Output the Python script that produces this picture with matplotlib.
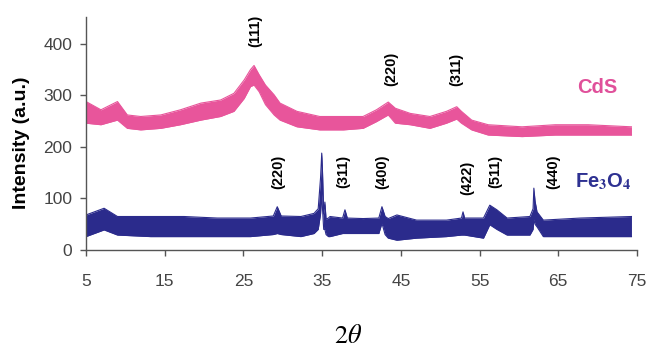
import matplotlib
matplotlib.use("Agg")
import matplotlib.pyplot as plt
import numpy as np

plt.rcParams['font.family'] = ['Liberation Sans', 'DejaVu Sans']
plt.rcParams['mathtext.fontset'] = 'stix'

# ---- CdS pattern: lower / upper envelope of the noisy trace ----
cds_x = [5.0, 6.9, 9.0, 10.25, 11.95, 14.5, 17.0, 19.6, 22.1, 23.8, 25.1, 25.9,
         26.35, 27.0, 27.8, 28.9, 29.65, 31.8, 34.7, 37.7, 40.2, 41.9, 43.4,
         44.3, 46.2, 48.7, 50.8, 52.1, 52.7, 54.0, 56.1, 60.4, 64.6, 68.8, 74.3]
cds_hi = [288, 272, 288, 262, 259, 262, 272, 285, 291, 304, 330, 350,
          358, 340, 320, 301, 285, 269, 259, 259, 259, 272, 287,
          275, 265, 259, 269, 278, 269, 252, 243, 239, 243, 243, 239]
cds_lo = [246, 243, 252, 236, 233, 236, 243, 252, 259, 269, 294, 317,
          320, 307, 282, 262, 252, 239, 233, 233, 236, 249, 262,
          246, 243, 236, 246, 254, 246, 233, 223, 220, 223, 223, 223]

# ---- Fe3O4 pattern: lower / upper envelope of the noisy trace ----
fe_x = [5.0, 7.3, 9.0, 13.2, 17.45, 21.7, 25.9, 28.8, 29.3, 29.8, 32.3, 33.97,
        34.5, 34.8, 34.95, 35.05, 35.2, 35.35, 35.5, 35.8, 36.0, 37.6, 37.9,
        38.2, 40.2, 42.2, 42.6, 43.0, 43.4, 44.5, 47.0, 50.8, 52.7, 52.9, 53.1,
        55.5, 56.3, 57.2, 58.5, 61.4, 61.8, 61.9, 62.05, 62.3, 63.1, 67.8, 74.3]
fe_hi = [68, 81, 65, 65, 65, 62, 62, 66, 84, 66, 65, 71,
         80, 140, 188, 151, 70, 93, 60, 62, 65, 62, 78,
         62, 61, 62, 84, 65, 61, 68, 58, 58, 62, 74, 62,
         62, 87, 78, 62, 65, 80, 120, 95, 74, 58, 62, 65]
fe_lo = [26, 39, 29, 26, 26, 26, 26, 30, 32, 30, 26, 32,
         40, 70, 110, 80, 40, 40, 30, 26, 26, 32, 32,
         32, 32, 32, 52, 30, 23, 19, 23, 26, 29, 29, 29,
         23, 49, 40, 29, 29, 40, 60, 50, 45, 26, 26, 26]

# ---- annotations ----
cds_hkl = ['(111)', '(220)', '(311)']
cds_hkl_x = [26.5, 43.75, 52.1]
cds_hkl_y = [425, 351, 350]
fe_hkl = ['(220)', '(311)', '(400)', '(422)', '(511)', '(440)']
fe_hkl_x = [29.4, 37.7, 42.7, 53.4, 57.0, 64.4]
fe_hkl_y = [152, 152, 152, 140, 152, 152]

xticks = [5, 15, 25, 35, 45, 55, 65, 75]
yticks = [0, 100, 200, 300, 400]

pink = '#E8559B'
navy = '#2B2B8C'

fig = plt.figure(figsize=(6.47, 3.47), dpi=100)
ax = fig.add_axes([0.1329, 0.2795, 0.8516, 0.6715])

ax.fill_between(cds_x, cds_lo, cds_hi, color=pink, lw=0)
ax.plot(cds_x, cds_hi, color=pink, lw=0.8)
ax.plot(cds_x, cds_lo, color=pink, lw=0.8)
ax.fill_between(fe_x, fe_lo, fe_hi, color=navy, lw=0)
ax.plot(fe_x, fe_hi, color=navy, lw=0.8)
ax.plot(fe_x, fe_lo, color=navy, lw=0.8)

for t, x, y in zip(cds_hkl, cds_hkl_x, cds_hkl_y):
    ax.text(x, y, t, rotation=90, ha='center', va='center', fontsize=10.5,
            fontweight='bold', color='black')
for t, x, y in zip(fe_hkl, fe_hkl_x, fe_hkl_y):
    ax.text(x, y, t, rotation=90, ha='center', va='center', fontsize=10.5,
            fontweight='bold', color='black')

ax.text(69.9, 315, 'CdS', color='#E0509A', fontsize=14.5, fontweight='bold',
        ha='center', va='center')
ax.text(70.7, 132, r'Fe$_\mathbf{3}$O$_\mathbf{4}$', color='#2E3192', fontsize=14.5,
        fontweight='bold', ha='center', va='center')

ax.set_xlim(5, 75)
ax.set_ylim(0, 452)
ax.set_xticks(xticks)
ax.set_yticks(yticks)
for s in ['top', 'right']:
    ax.spines[s].set_visible(False)
for s in ['left', 'bottom']:
    ax.spines[s].set_color('#555555')
    ax.spines[s].set_linewidth(1.0)
ax.tick_params(axis='both', direction='out', length=4.3, width=1.0,
               color='#555555', labelcolor='#444444', labelsize=12.5)
ax.tick_params(axis='x', pad=13)
ax.tick_params(axis='y', pad=5.5)

fig.text(0.034, 0.588, 'Intensity (a.u.)', rotation=90, ha='center', va='center',
         fontsize=14, fontweight='bold', color='black')
fig.text(0.538, 0.033, r'$2\theta$', ha='center', va='center', fontsize=19,
         color='black')

fig.savefig('out.png', dpi=100)
